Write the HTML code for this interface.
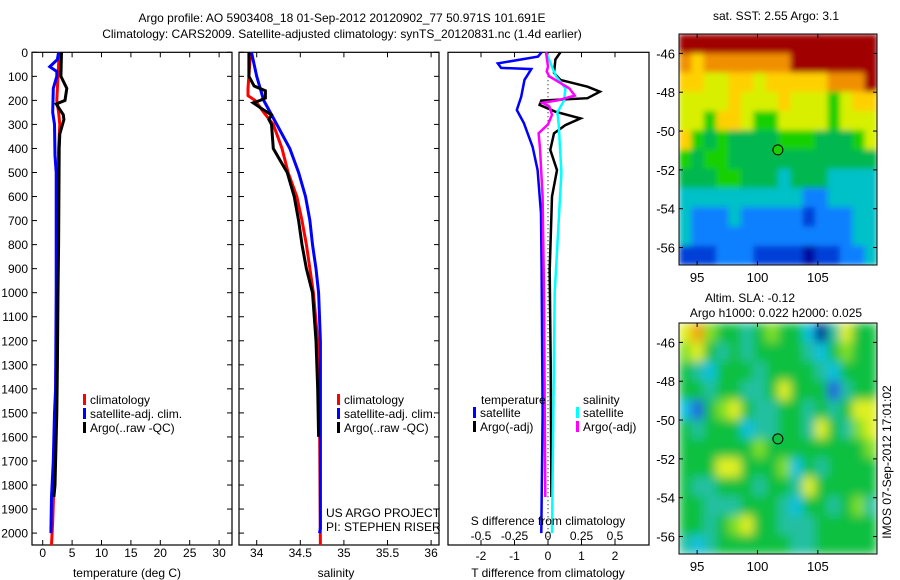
<!DOCTYPE html>
<html><head><meta charset="utf-8"><style>
body{margin:0;background:#fff;}
svg{display:block;font-family:"Liberation Sans",sans-serif;}
text{font-size:12px;fill:#000;}
</style></head><body>
<svg id="chart" width="900" height="580" viewBox="0 0 900 580" xmlns="http://www.w3.org/2000/svg">
<defs>
<filter id="blurS" x="0" y="0" width="1" height="1"><feGaussianBlur stdDeviation="3" edgeMode="duplicate"/></filter>
<filter id="blurL" x="0" y="0" width="1" height="1"><feGaussianBlur stdDeviation="5" edgeMode="duplicate"/></filter>
<clipPath id="clip1"><rect x="679" y="34" width="198" height="231"/></clipPath>
<clipPath id="clip2"><rect x="679" y="323" width="198" height="231"/></clipPath>
</defs>
<rect width="900" height="580" fill="#fff"/>
<text x="342" y="22" text-anchor="middle">Argo profile: AO 5903408_18 01-Sep-2012 20120902_77 50.971S 101.691E</text>
<text x="342" y="38" text-anchor="middle">Climatology: CARS2009. Satellite-adjusted climatology: synTS_20120831.nc (1.4d earlier)</text>
<g id="g"></g>
</svg>
<script>
// ---- data ----
const depthTicks=[0,100,200,300,400,500,600,700,800,900,1000,1100,1200,1300,1400,1500,1600,1700,1800,1900,2000];
const tTicks=[0,5,10,15,20,25,30];
const sTicks=[34,34.5,35,35.5,36];
const dTTicks=[-2,-1,0,1,2];
const dSTicks=[-0.5,-0.25,0,0.25,0.5];
const tempClimDepth=[0,100,200,250,300,400,500,800,1100,1400,1600,1800,1950,2000,2050];
const tempClim=[2.8,2.6,2.4,2.7,2.9,2.7,2.6,2.5,2.4,2.2,2.1,1.9,1.7,1.6,1.5];
const tempSatDepth=[0,30,60,80,100,150,250,300,430,500,1000,1400,1500,1700,1850,2000];
const tempSat=[2.7,2.5,1.2,2.4,2.4,1.8,1.7,2.0,2.1,2.3,2.3,2.2,2.0,1.8,1.5,1.4];
const tempArgoDepth=[0,100,150,200,215,260,280,340,400,800,1000,1300,1500,1800,1850];
const tempArgo=[3.2,3.1,4.1,3.8,2.3,3.5,3.6,2.9,2.8,2.7,2.6,2.5,2.4,2.1,1.9];
const salClimDepth=[0,150,180,200,250,300,400,500,600,700,800,900,1000,1200,1500,2050];
const salClim=[33.93,33.90,33.90,33.98,34.08,34.19,34.29,34.36,34.46,34.52,34.57,34.61,34.65,34.70,34.72,34.73];
const salSatDepth=[0,50,100,200,300,400,500,600,700,800,900,1000,1200,1980,2000];
const salSat=[33.94,33.97,34.0,34.08,34.23,34.38,34.48,34.56,34.61,34.64,34.68,34.71,34.73,34.73,34.72];
const salArgoDepth=[0,100,140,160,190,200,210,240,260,280,300,400,450,500,600,700,800,900,1000,1200,1400,1600];
const salArgo=[33.91,33.91,33.97,34.1,34.1,34.04,33.96,34.08,34.17,34.14,34.17,34.19,34.27,34.35,34.43,34.48,34.52,34.57,34.64,34.68,34.70,34.71];
const dTSatDepth=[0,18,46,65,70,115,185,240,295,393,490,670,900,1500,2000];
const dTSat=[-0.19,-0.3,-1.5,-1.4,-0.5,-0.7,-0.8,-0.93,-0.72,-0.46,-0.31,-0.21,-0.19,-0.16,-0.2];
const dTArgoDepth=[0,30,86,115,143,164,191,201,219,247,275,303,337,406,490,600,906,1300,1850];
const dTArgo=[0.37,0.22,0.18,0.37,1.18,1.55,1.18,-0.2,-0.25,0.22,0.97,0.52,0.18,0.07,0.27,0.12,0.05,0.08,0.1];
const dSSatDepth=[0,100,150,200,250,300,500,800,1000,2000];
const dSSat=[-0.015,0.06,0.13,0.12,0.07,0.08,0.1,0.07,0.05,0.03];
const dSArgoDepth=[0,60,80,100,150,180,200,210,225,260,300,337,400,600,1000,1850];
const dSArgo=[-0.015,0.0,-0.01,0.01,0.16,0.2,0.07,-0.04,0.01,0.03,0.0,-0.07,-0.06,-0.04,-0.03,-0.02];
const lonTicks=[95,100,105];
const latTicks=[-46,-48,-50,-52,-54,-56];
const sstGrid=[
"9999999999999999","8788888889999999","7766776777778889","6666766676665677",
"6657765566665666","7545444455544456","5455444444444444","4445544434443333",
"3333333333223333","3222322222122233","3222222222222233","1112221111011223"];
const slaGrid=[
"6754434544203644","5643434444324544","4324443444432444","4434433464441344",
"2145643344343466","4344423344364356","4444445444444445","4446644452434444",
"4334443443644444","4433344432443453","4434564433344444","3234444443344444"];
const argoLon=101.691, argoLat=-50.971;
// ---- helpers ----
const NS="http://www.w3.org/2000/svg";
const G=document.getElementById('g');
function el(tag,attrs,parent){const e=document.createElementNS(NS,tag);for(const k in attrs)e.setAttribute(k,attrs[k]);(parent||G).appendChild(e);return e;}
function txt(s,x,y,anchor,name,extra){const t=el('text',Object.assign({x:x,y:y,'text-anchor':anchor||'start'},extra||{}));t.textContent=s;


return t;}
const top0=52.3, bot=545, dScale=0.2404;
const yD=d=>top0+d*dScale;
const xT=v=>42.7+v*5.88;
const xS=v=>256.7+(v-34)*87.2;
const xDT=v=>548+v*33.5;
const xDS=v=>548+v*134;
function frame(x0,x1,name,leftTicks,rightTicks){
  const r=el('rect',{x:x0,y:top0,width:x1-x0,height:bot-top0,fill:'none',stroke:'#000','stroke-width':1.2});
  
  
  depthTicks.forEach(d=>{const y=yD(d);
    if(leftTicks)el('line',{x1:x0,x2:x0+5,y1:y,y2:y,stroke:'#000'});
    if(rightTicks)el('line',{x1:x1-5,x2:x1,y1:y,y2:y,stroke:'#000'});});
}
function xticks(vals,fx,labelY,name,fmt){
  vals.forEach(v=>{const x=fx(v);
    el('line',{x1:x,x2:x,y1:top0,y2:top0+5,stroke:'#000'});
    el('line',{x1:x,x2:x,y1:bot-5,y2:bot,stroke:'#000'});
    if(labelY)txt(fmt?fmt(v):String(v),x,labelY,'middle',name);});
}
function profile(ds,vs,fx,color,w,name){
  const pts=ds.map((d,i)=>fx(vs[i]).toFixed(1)+','+yD(d).toFixed(1)).join(' ');
  const p=el('polyline',{points:pts,fill:'none',stroke:color,'stroke-width':w,'stroke-linejoin':'miter'});
  
  
}
function legend(x,y,color,label,name){
  el('rect',{x:x,y:y-10,width:3,height:11,fill:color});
  txt(label,x+7,y,'start',name);
}
// ---- panel 1 temperature ----
frame(32,232,'temperature-panel',true,true);
depthTicks.forEach(d=>txt(String(d),28,yD(d)+4.5,'end','depth-tick-label'));
xticks(tTicks,xT,557,'temperature-tick-label');
txt('temperature (deg C)',127,577,'middle','temperature-axis-title');
profile(tempClimDepth,tempClim,xT,'#ff0000',3,'temp-climatology-line');
profile(tempSatDepth,tempSat,xT,'#0000ff',3,'temp-satellite-line');
profile(tempArgoDepth,tempArgo,xT,'#000000',3,'temp-argo-line');
legend(83,404,'#ff0000','climatology','legend-climatology');
legend(83,418,'#0000ff','satellite-adj. clim.','legend-satellite');
legend(83,432,'#000000','Argo(..raw -QC)','legend-argo');
// ---- panel 2 salinity ----
frame(239,439,'salinity-panel',true,true);
xticks(sTicks,xS,557,'salinity-tick-label');
txt('salinity',336,577,'middle','salinity-axis-title');
profile(salClimDepth,salClim,xS,'#ff0000',3,'sal-climatology-line');
profile(salSatDepth,salSat,xS,'#0000ff',3,'sal-satellite-line');
profile(salArgoDepth,salArgo,xS,'#000000',3,'sal-argo-line');
legend(337,404,'#ff0000','climatology','legend-sal-climatology');
legend(337,418,'#0000ff','satellite-adj. clim.','legend-sal-satellite');
legend(337,432,'#000000','Argo(..raw -QC)','legend-sal-argo');
txt('US ARGO PROJECT',326,517,'start','project-label');
txt('PI: STEPHEN RISER',326,531,'start','pi-label');
// ---- panel 3 differences ----
frame(448,649,'difference-panel',false,false);
xticks(dTTicks,xDT,560,'t-diff-tick-label');
dSTicks.forEach(v=>txt(String(v),xDS(v),540,'middle','s-diff-tick-label'));
el('line',{x1:548,x2:548,y1:top0,y2:bot,stroke:'#000','stroke-dasharray':'1,3'});
profile(dTSatDepth,dTSat,xDT,'#0000ff',2.5,'dT-satellite-line');
profile(dTArgoDepth,dTArgo,xDT,'#000000',2.5,'dT-argo-line');
profile(dSSatDepth,dSSat,xDS,'#00ffff',2.5,'dS-satellite-line');
profile(dSArgoDepth,dSArgo,xDS,'#ff00ff',2.5,'dS-argo-line');
txt('temperature',481,404,'start','legend-temperature-header');
txt('salinity',583,404,'start','legend-salinity-header');
legend(473,417,'#0000ff','satellite','legend-dT-satellite');
legend(473,431,'#000000','Argo(-adj)','legend-dT-argo');
legend(576,417,'#00ffff','satellite','legend-dS-satellite');
legend(576,431,'#ff00ff','Argo(-adj)','legend-dS-argo');
txt('S difference from climatology',548,525,'middle','s-diff-axis-title');
txt('T difference from climatology',548,577,'middle','t-diff-axis-title');
// ---- maps ----
const sstCols=['#0010a0','#0040d8','#1080ff','#00c0c8','#00b850','#18d000','#d8f000','#ffd000','#f09000','#a00000'];
const slaCols=['#001890','#2060e0','#10c0e0','#20c0a0','#10c040','#80e020','#e0f020','#f0a010'];
function map(y0,grid,cols,name,clip,filt){
  const x0=679,x1=877,y1=y0+231;
  const lonMin=93.5,lonMax=109.9,latMax=-45,latMin=-56.9;
  const fx=v=>x0+(v-lonMin)/(lonMax-lonMin)*(x1-x0);
  const fy=v=>y0+(latMax-v)/(latMax-latMin)*(y1-y0);
  const outer=el('g',{'clip-path':'url(#'+clip+')'});
  
  
  const g=el('g',{filter:'url(#'+filt+')'},outer);
  const nr=grid.length,nc=grid[0].length,cw=(x1-x0)/nc,ch=(y1-y0)/nr;
  grid.forEach((row,r)=>{for(let c=0;c<nc;c++){
    el('rect',{x:(x0+c*cw).toFixed(2),y:(y0+r*ch).toFixed(2),width:(cw+0.5).toFixed(2),height:(ch+0.5).toFixed(2),fill:cols[+row[c]]},g);}});
  el('rect',{x:x0,y:y0,width:x1-x0,height:y1-y0,fill:'none',stroke:'#000'});
  lonTicks.forEach(v=>{const x=fx(v);el('line',{x1:x,x2:x,y1:y1-4,y2:y1,stroke:'#000'});el('line',{x1:x,x2:x,y1:y0,y2:y0+4,stroke:'#000'});
    txt(String(v),x,y1+17,'middle','map-lon-label',{style:'font-size:13px'});});
  latTicks.forEach(v=>{const y=fy(v);el('line',{x1:x0,x2:x0+4,y1:y,y2:y,stroke:'#000'});el('line',{x1:x1-4,x2:x1,y1:y,y2:y,stroke:'#000'});
    txt(String(v),675,y+5,'end','map-lat-label',{style:'font-size:13px'});});
  const c=el('circle',{cx:fx(argoLon),cy:fy(argoLat),r:5,fill:cols===sstCols?'#18d000':'#10c040',stroke:'#000'});
  
  
}
map(34,sstGrid,sstCols,'sst-map','clip1','blurS');
map(323,slaGrid,slaCols,'sla-map','clip2','blurL');
txt('sat. SST: 2.55 Argo: 3.1',776,20,'middle','sst-map-title');
txt('Altim. SLA: -0.12',750,302,'middle','sla-map-title');
txt('Argo h1000: 0.022 h2000: 0.025',776,317,'middle','sla-map-subtitle');
txt('IMOS 07-Sep-2012 17:01:02',0,0,'middle','timestamp-label',{transform:'translate(891,462) rotate(-90)'});
</script>
</body></html>
